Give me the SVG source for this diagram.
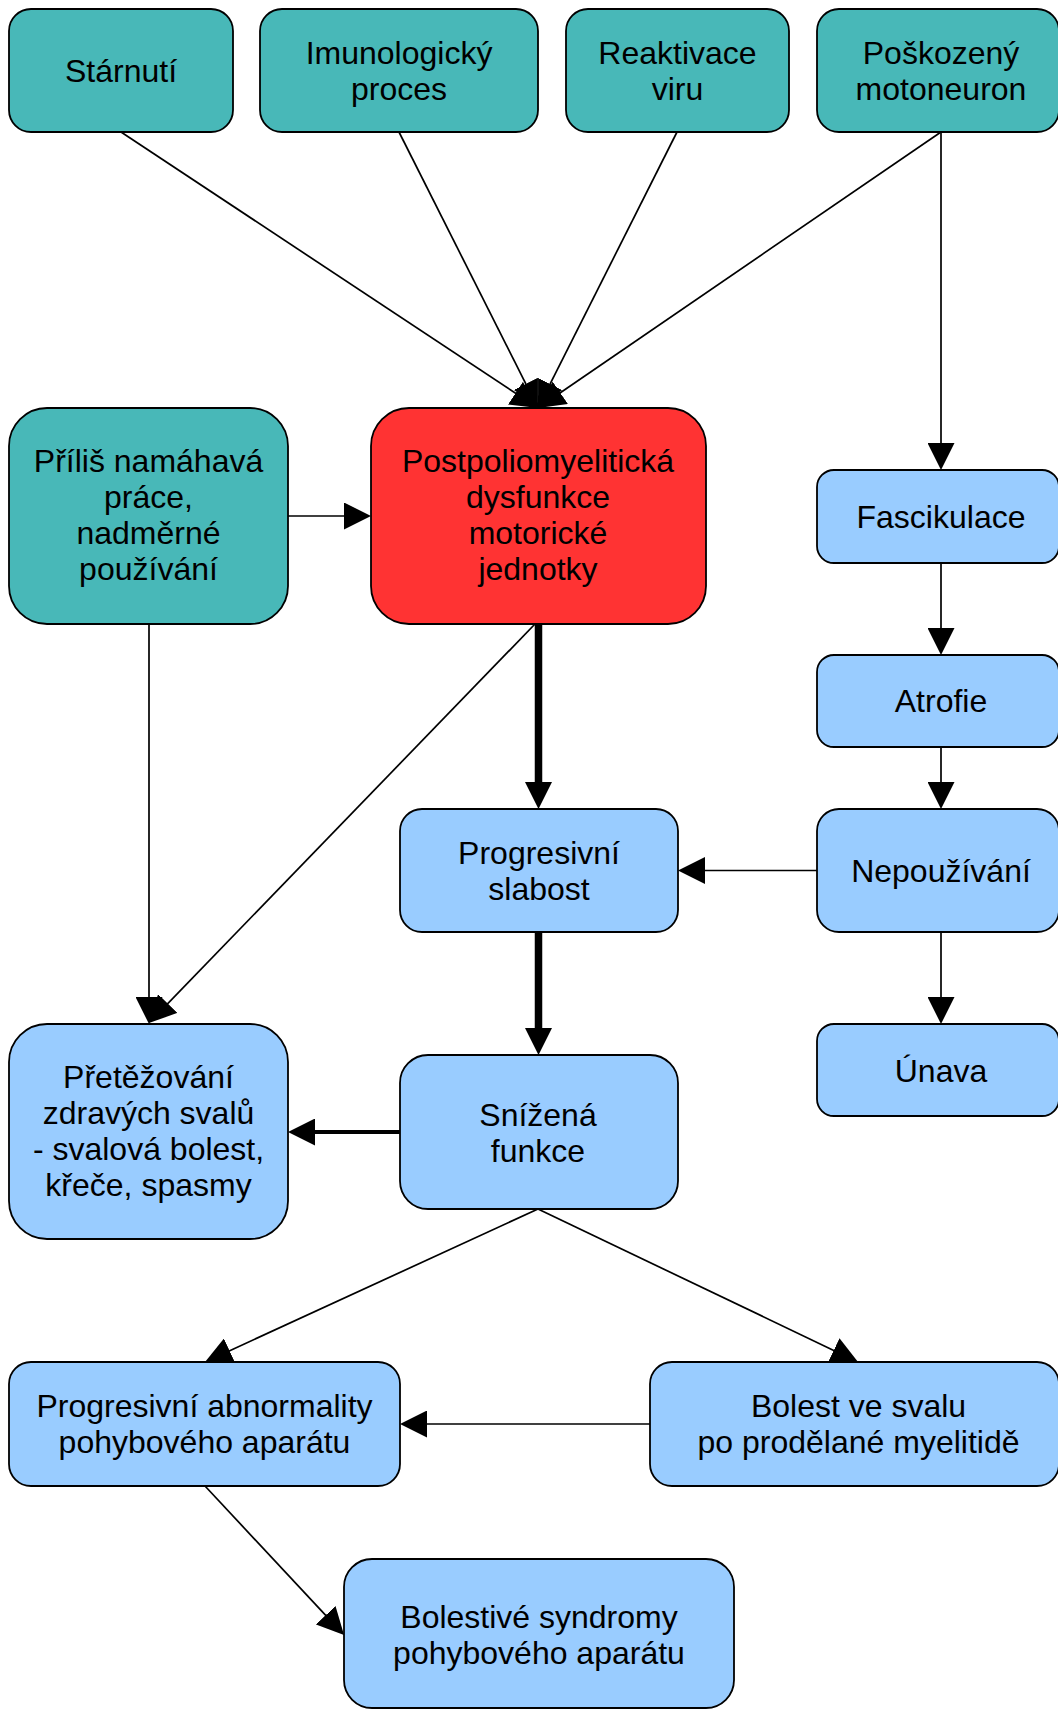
<svg xmlns="http://www.w3.org/2000/svg" width="1058" height="1709" viewBox="0 0 1058 1709">
<style>
  .n rect{stroke:#000;stroke-width:1.8}
  .teal{fill:#48B8B8}
  .red{fill:#FF3333}
  .blue{fill:#99CCFF}
  text{font-family:"Liberation Sans",Arial,sans-serif;font-size:32px;fill:#000;text-anchor:middle}
  .c line{stroke:#000;fill:none}
  .thin{stroke-width:1.7}
  .mid{stroke-width:4}
  .thick{stroke-width:7.5}
</style>
<defs>
  <marker id="ah" markerUnits="userSpaceOnUse" markerWidth="27" markerHeight="27" refX="7" refY="13.5" orient="auto" viewBox="0 0 27 27">
    <path d="M0,0 L27,13.5 L0,27 z" fill="#000"/>
  </marker>
</defs>
<rect width="1058" height="1709" fill="#fff"/>
<g id="connectors" class="c">
  <line class="thin" x1="121" y1="132" x2="521.3" y2="397" marker-end="url(#ah)"/>
  <line class="thin" x1="399" y1="132" x2="529" y2="390.1" marker-end="url(#ah)"/>
  <line class="thin" x1="677" y1="132" x2="547" y2="390.2" marker-end="url(#ah)"/>
  <line class="thin" x1="941" y1="132" x2="554.5" y2="396.7" marker-end="url(#ah)"/>
  <line class="thin" x1="941" y1="132" x2="941" y2="450" marker-end="url(#ah)"/>
  <line class="thin" x1="941" y1="563" x2="941" y2="635" marker-end="url(#ah)"/>
  <line class="thin" x1="941" y1="747" x2="941" y2="789" marker-end="url(#ah)"/>
  <line class="thin" x1="941" y1="932" x2="941" y2="1004" marker-end="url(#ah)"/>
  <line class="thin" x1="817" y1="870.5" x2="698" y2="870.5" marker-end="url(#ah)"/>
  <line class="thin" x1="288" y1="516" x2="351" y2="516" marker-end="url(#ah)"/>
  <line class="thick" x1="538.5" y1="624" x2="538.5" y2="789" marker-end="url(#ah)"/>
  <line class="thick" x1="538.5" y1="932" x2="538.5" y2="1035" marker-end="url(#ah)"/>
  <line class="thin" x1="149" y1="624" x2="149" y2="1004" marker-end="url(#ah)"/>
  <line class="thin" x1="535" y1="624" x2="162.9" y2="1008.6" marker-end="url(#ah)"/>
  <line class="mid" x1="400" y1="1132" x2="308" y2="1132" marker-end="url(#ah)"/>
  <line class="thin" x1="538" y1="1209" x2="223.2" y2="1353.7" marker-end="url(#ah)"/>
  <line class="thin" x1="538" y1="1209" x2="840" y2="1353.4" marker-end="url(#ah)"/>
  <line class="thin" x1="650" y1="1424" x2="420" y2="1424" marker-end="url(#ah)"/>
  <line class="thin" x1="205" y1="1486" x2="330.4" y2="1620.4" marker-end="url(#ah)"/>
</g>
<g id="n-starnuti" class="n">
  <rect class="teal" x="9" y="9" width="224" height="123" rx="22"/>
  <text x="121" y="82">Stárnutí</text>
</g>
<g id="n-imunologicky" class="n">
  <rect class="teal" x="260" y="9" width="278" height="123" rx="22"/>
  <text x="399" y="63.5">Imunologický</text>
  <text x="399" y="99.5">proces</text>
</g>
<g id="n-reaktivace" class="n">
  <rect class="teal" x="566" y="9" width="223" height="123" rx="22"/>
  <text x="677.5" y="63.5">Reaktivace</text>
  <text x="677.5" y="99.5">viru</text>
</g>
<g id="n-poskozeny" class="n">
  <rect class="teal" x="817" y="9" width="242" height="123" rx="22"/>
  <text x="941" y="63.5">Poškozený</text>
  <text x="941" y="99.5">motoneuron</text>
</g>
<g id="n-prilis" class="n">
  <rect class="teal" x="9" y="408" width="279" height="216" rx="38"/>
  <text x="148.5" y="472">Příliš namáhavá</text>
  <text x="148.5" y="508">práce,</text>
  <text x="148.5" y="544">nadměrné</text>
  <text x="148.5" y="580">používání</text>
</g>
<g id="n-ppmd" class="n">
  <rect class="red" x="371" y="408" width="335" height="216" rx="38"/>
  <text x="538" y="472">Postpoliomyelitická</text>
  <text x="538" y="508">dysfunkce</text>
  <text x="538" y="544">motorické</text>
  <text x="538" y="580">jednotky</text>
</g>
<g id="n-fascikulace" class="n">
  <rect class="blue" x="817" y="470" width="242" height="93" rx="17"/>
  <text x="941" y="528">Fascikulace</text>
</g>
<g id="n-atrofie" class="n">
  <rect class="blue" x="817" y="655" width="242" height="92" rx="17"/>
  <text x="941" y="712">Atrofie</text>
</g>
<g id="n-slabost" class="n">
  <rect class="blue" x="400" y="809" width="278" height="123" rx="22"/>
  <text x="539" y="863.5">Progresivní</text>
  <text x="539" y="899.5">slabost</text>
</g>
<g id="n-nepouzivani" class="n">
  <rect class="blue" x="817" y="809" width="242" height="123" rx="22"/>
  <text x="941" y="882">Nepoužívání</text>
</g>
<g id="n-unava" class="n">
  <rect class="blue" x="817" y="1024" width="242" height="92" rx="17"/>
  <text x="941" y="1081.5">Únava</text>
</g>
<g id="n-snizena" class="n">
  <rect class="blue" x="400" y="1055" width="278" height="154" rx="28"/>
  <text x="538" y="1125.5">Snížená</text>
  <text x="538" y="1161.5">funkce</text>
</g>
<g id="n-pretezovani" class="n">
  <rect class="blue" x="9" y="1024" width="279" height="215" rx="38"/>
  <text x="148.5" y="1088">Přetěžování</text>
  <text x="148.5" y="1124">zdravých svalů</text>
  <text x="148.5" y="1160">- svalová bolest,</text>
  <text x="148.5" y="1196">křeče, spasmy</text>
</g>
<g id="n-abnormality" class="n">
  <rect class="blue" x="9" y="1362" width="391" height="124" rx="22"/>
  <text x="204.5" y="1417">Progresivní abnormality</text>
  <text x="204.5" y="1453">pohybového aparátu</text>
</g>
<g id="n-bolest" class="n">
  <rect class="blue" x="650" y="1362" width="409" height="124" rx="22"/>
  <text x="858.5" y="1417">Bolest ve svalu</text>
  <text x="858.5" y="1453">po prodělané myelitidě</text>
</g>
<g id="n-bolestive" class="n">
  <rect class="blue" x="344" y="1559" width="390" height="149" rx="28"/>
  <text x="539" y="1627.5">Bolestivé syndromy</text>
  <text x="539" y="1663.5">pohybového aparátu</text>
</g>
</svg>
